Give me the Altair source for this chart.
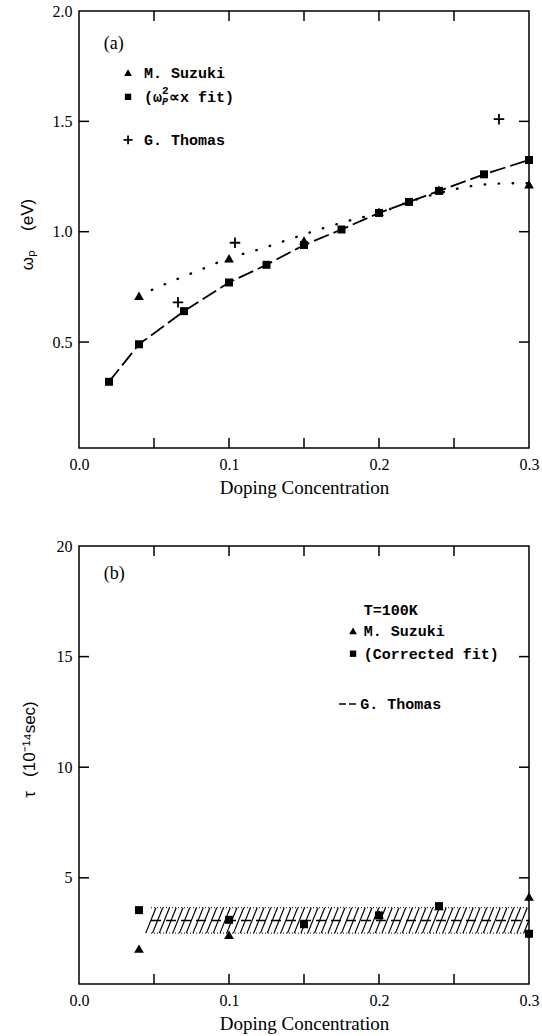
import altair as alt
import pandas as pd

# ---------------- Panel (a): plasma frequency ----------------
a_fit_x = [0.02, 0.04, 0.07, 0.10, 0.125, 0.15, 0.175, 0.20, 0.22, 0.24, 0.27, 0.30]
a_fit_y = [0.32, 0.49, 0.64, 0.77, 0.85, 0.94, 1.01, 1.085, 1.135, 1.185, 1.26, 1.325]
a_suz_x = [0.04, 0.10, 0.15, 0.20, 0.24, 0.30]
a_suz_y = [0.71, 0.88, 0.96, 1.09, 1.19, 1.215]
a_curve_x = [0.04, 0.06, 0.08, 0.10, 0.12, 0.14, 0.16, 0.18, 0.20, 0.22, 0.24, 0.26, 0.28, 0.30]
a_curve_y = [0.71, 0.77, 0.825, 0.88, 0.92, 0.965, 1.01, 1.05, 1.085, 1.135, 1.175, 1.205, 1.218, 1.22]
a_tho_x = [0.066, 0.104, 0.28]
a_tho_y = [0.68, 0.95, 1.51]

# ---------------- Panel (b): relaxation time ----------------
b_suz_x = [0.04, 0.10, 0.20, 0.24, 0.30]
b_suz_y = [1.8, 2.43, 3.35, 3.72, 4.15]
b_fit_x = [0.04, 0.10, 0.15, 0.20, 0.24, 0.30]
b_fit_y = [3.54, 3.1, 2.9, 3.3, 3.72, 2.47]
b_tho_x = [0.048, 0.30]
b_tho_lo = 2.5
b_tho_hi = 3.65
b_tho_mid = 3.07

# axis tick values
x_labels = [0.0, 0.1, 0.2, 0.3]
x_ticks = [0.05, 0.10, 0.15, 0.20, 0.25]
ya_labels = [0.5, 1.0, 1.5, 2.0]
ya_ticks = [0.5, 1.0, 1.5]
yb_labels = [5, 10, 15, 20]
yb_ticks = [5, 10, 15]

W = 450
HA = 437
HB = 438
TICK = 10
SERIF = "Liberation Serif"
MONO = "Liberation Mono"
SANS = "Liberation Sans"
NB = "\u00a0"


def xaxis():
    return alt.Axis(values=x_labels, format=".1f", ticks=False, domain=False, grid=False,
                    labelFont=SERIF, labelFontSize=16, labelColor="black", labelPadding=8,
                    labelFlush=False, title="Doping Concentration", titleFont=SERIF,
                    titleFontSize=19, titleFontWeight="normal", titleColor="black",
                    titlePadding=6)


def X(f):
    return alt.X(f, type="quantitative",
                 scale=alt.Scale(domain=[0, 0.3], nice=False, zero=False), axis=xaxis())


def YA(f):
    return alt.Y(f, type="quantitative",
                 scale=alt.Scale(domain=[0.02, 2.0], nice=False, zero=False),
                 axis=alt.Axis(values=ya_labels, format=".1f", ticks=False, domain=False,
                               grid=False, labelFont=SERIF, labelFontSize=16,
                               labelColor="black", labelPadding=7, labelFlush=False,
                               title="ωₚ" + NB * 4 + "(eV)", titleFont=SANS, titleFontSize=17,
                               titleFontWeight="normal", titleColor="black",
                               titleAngle=270, titleX=-52, titleY=223,
                               titleAlign="center", titleBaseline="middle"))


def YB(f):
    return alt.Y(f, type="quantitative",
                 scale=alt.Scale(domain=[0.2, 20], nice=False, zero=False),
                 axis=alt.Axis(values=yb_labels, format="d", ticks=False, domain=False,
                               grid=False, labelFont=SERIF, labelFontSize=16,
                               labelColor="black", labelPadding=7, labelFlush=False,
                               title="τ" + NB * 3 + "(10⁻¹⁴sec)", titleFont=SANS,
                               titleFontSize=17, titleFontWeight="normal", titleColor="black",
                               titleAngle=270, titleX=-50, titleY=203,
                               titleAlign="center", titleBaseline="middle"))


def tick_layers(Y, yticks, H):
    dx = pd.DataFrame({"v": x_ticks})
    dy = pd.DataFrame({"v": yticks})
    base = dict(color="black", strokeWidth=1.5)
    return [
        alt.Chart(dx).mark_rule(**base).encode(x=X("v"), y=alt.value(H), y2=alt.value(H - TICK)),
        alt.Chart(dx).mark_rule(**base).encode(x=X("v"), y=alt.value(0), y2=alt.value(TICK)),
        alt.Chart(dy).mark_rule(**base).encode(y=Y("v"), x=alt.value(0), x2=alt.value(TICK)),
        alt.Chart(dy).mark_rule(**base).encode(y=Y("v"), x=alt.value(W), x2=alt.value(W - TICK)),
    ]


def squares(df, Y, size=64):
    return alt.Chart(df).mark_point(shape="square", filled=True, size=size, color="black",
                                    opacity=1).encode(x=X("x"), y=Y("y"))


def triangles(df, Y, size=95):
    return alt.Chart(df).mark_point(shape="triangle-up", filled=True, size=size, color="black",
                                    opacity=1).encode(x=X("x"), y=Y("y"))


def texts(df, Y, **kw):
    props = dict(align="left", baseline="middle", color="black")
    props.update(kw)
    return alt.Chart(df).mark_text(**props).encode(x=X("x"), y=Y("y"), text="t:N")


# ---------- panel (a) ----------
dfa_fit = pd.DataFrame({"x": a_fit_x, "y": a_fit_y})
dfa_suz = pd.DataFrame({"x": a_suz_x, "y": a_suz_y})
dfa_cur = pd.DataFrame({"x": a_curve_x, "y": a_curve_y})
dfa_tho = pd.DataFrame({"x": a_tho_x, "y": a_tho_y})

# legend / annotation anchors (data coordinates)
a_leg_mk_x = 0.0327
a_leg_tx_x = 0.0433
a_leg_y = [1.721, 1.611, 1.416]

a_layers = tick_layers(YA, ya_ticks, HA) + [
    alt.Chart(dfa_cur).mark_line(color="black", strokeWidth=2.4, strokeDash=[0.5, 13.5],
                                 strokeCap="round", interpolate="monotone").encode(
        x=X("x"), y=YA("y")),
    alt.Chart(dfa_fit).mark_line(color="black", strokeWidth=1.8, strokeDash=[16, 5]).encode(
        x=X("x"), y=YA("y")),
    squares(dfa_fit, YA),
    triangles(dfa_suz, YA),
    alt.Chart(dfa_tho).mark_point(shape="M-1,0L1,0M0,-1L0,1", filled=False, size=110,
                                  strokeWidth=1.8, color="black", opacity=1).encode(
        x=X("x"), y=YA("y")),
    # legend markers
    triangles(pd.DataFrame({"x": [a_leg_mk_x], "y": [a_leg_y[0]]}), YA, size=60),
    squares(pd.DataFrame({"x": [a_leg_mk_x], "y": [a_leg_y[1]]}), YA, size=40),
    alt.Chart(pd.DataFrame({"x": [a_leg_mk_x], "y": [a_leg_y[2]]})).mark_point(
        shape="M-1,0L1,0M0,-1L0,1", filled=False, size=80, strokeWidth=1.8, color="black",
        opacity=1).encode(x=X("x"), y=YA("y")),
    texts(pd.DataFrame({"x": [a_leg_tx_x] * 2, "y": [a_leg_y[0], a_leg_y[2]],
                        "t": ["M. Suzuki", "G. Thomas"]}), YA,
          font=MONO, fontWeight="bold", fontSize=15),
    texts(pd.DataFrame({"x": [a_leg_tx_x], "y": [a_leg_y[1]], "t": ["(ω"]}), YA,
          font=MONO, fontWeight="bold", fontSize=15),
    texts(pd.DataFrame({"x": [a_leg_tx_x], "y": [a_leg_y[1]], "t": ["2"]}), YA,
          font=MONO, fontWeight="bold", fontSize=11, dx=18, dy=-6),
    texts(pd.DataFrame({"x": [a_leg_tx_x], "y": [a_leg_y[1]], "t": ["P"]}), YA,
          font=MONO, fontWeight="bold", fontStyle="italic", fontSize=10, dx=18, dy=5),
    texts(pd.DataFrame({"x": [a_leg_tx_x], "y": [a_leg_y[1]], "t": ["∝x fit)"]}), YA,
          font=MONO, fontWeight="bold", fontSize=15, dx=25),
    texts(pd.DataFrame({"x": [0.0165], "y": [1.851], "t": ["(a)"]}), YA,
          font=SERIF, fontSize=18),
]
top = alt.layer(*a_layers).properties(width=W, height=HA)

# ---------- panel (b) ----------
dfb_fit = pd.DataFrame({"x": b_fit_x, "y": b_fit_y})
dfb_suz = pd.DataFrame({"x": b_suz_x, "y": b_suz_y})

# decorative hatching of the G. Thomas band
hatch_x0 = [round(0.0445 + 0.0045 * i, 4) for i in range(58)]
df_hatch = pd.DataFrame({"x": hatch_x0, "x2": [v + 0.0068 for v in hatch_x0],
                         "y": [b_tho_lo] * len(hatch_x0), "y2": [b_tho_hi] * len(hatch_x0)})

df_band_edges = pd.DataFrame({"x": [b_tho_x[0]] * 2, "x2": [b_tho_x[1]] * 2,
                              "y": [b_tho_lo, b_tho_hi]})
df_band_mid = pd.DataFrame({"x": [b_tho_x[0]], "x2": [b_tho_x[1]], "y": [b_tho_mid]})

b_leg_mk_x = 0.1827
b_leg_tx_x = 0.1898
b_leg_y = [17.11, 16.16, 15.13, 12.86]

b_layers = tick_layers(YB, yb_ticks, HB) + [
    alt.Chart(df_hatch).mark_rule(color="black", strokeWidth=1.2, clip=True).encode(
        x=X("x"), x2="x2", y=YB("y"), y2="y2"),
    alt.Chart(df_band_edges).mark_rule(color="black", strokeWidth=1, strokeDash=[1, 2]).encode(
        x=X("x"), x2="x2", y=YB("y")),
    alt.Chart(df_band_mid).mark_rule(color="black", strokeWidth=1.5, strokeDash=[10, 5]).encode(
        x=X("x"), x2="x2", y=YB("y")),
    squares(dfb_fit, YB),
    triangles(dfb_suz, YB),
    # legend
    triangles(pd.DataFrame({"x": [b_leg_mk_x], "y": [b_leg_y[1]]}), YB, size=60),
    squares(pd.DataFrame({"x": [b_leg_mk_x], "y": [b_leg_y[2]]}), YB, size=40),
    alt.Chart(pd.DataFrame({"x": [0.1733], "x2": [0.1867], "y": [b_leg_y[3]]})).mark_rule(
        color="black", strokeWidth=1.5, strokeDash=[7, 3]).encode(x=X("x"), x2="x2", y=YB("y")),
    texts(pd.DataFrame({"x": [b_leg_tx_x] * 3, "y": b_leg_y[:3],
                        "t": ["T=100K", "M. Suzuki", "(Corrected fit)"]}), YB,
          font=MONO, fontWeight="bold", fontSize=15),
    texts(pd.DataFrame({"x": [0.1875], "y": [b_leg_y[3]], "t": ["G. Thomas"]}), YB,
          font=MONO, fontWeight="bold", fontSize=15),
    texts(pd.DataFrame({"x": [0.0165], "y": [18.73], "t": ["(b)"]}), YB,
          font=SERIF, fontSize=18),
]
bottom = alt.layer(*b_layers).properties(width=W, height=HB)

chart = alt.vconcat(top, bottom, spacing=98, bounds="flush").properties(
    padding={"left": 17, "top": 2, "right": 2, "bottom": 0},
    background="white",
).configure_view(stroke="black", strokeWidth=1.5)

chart.save("out.html", embed_options={"renderer": "svg", "actions": False})
